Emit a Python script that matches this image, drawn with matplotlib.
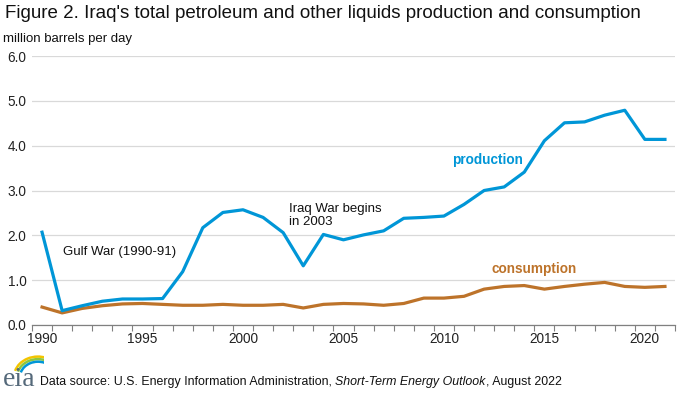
import matplotlib
matplotlib.use("Agg")
import matplotlib.pyplot as plt
from matplotlib.patches import Arc

plt.rcParams['font.family'] = ['Liberation Sans', 'DejaVu Sans']

years = list(range(1990, 2022))
production = [2.07, 0.32, 0.43, 0.53, 0.58, 0.58, 0.59, 1.19, 2.17, 2.51, 2.57, 2.40,
              2.06, 1.32, 2.02, 1.90, 2.01, 2.10, 2.38, 2.40, 2.43, 2.69, 3.00, 3.08,
              3.41, 4.11, 4.51, 4.53, 4.68, 4.79, 4.14, 4.14]
consumption = [0.40, 0.27, 0.37, 0.43, 0.47, 0.48, 0.46, 0.44, 0.44, 0.46, 0.44, 0.44,
               0.46, 0.38, 0.46, 0.48, 0.47, 0.44, 0.48, 0.60, 0.60, 0.64, 0.80, 0.86,
               0.88, 0.80, 0.86, 0.91, 0.95, 0.86, 0.84, 0.86]
yticks = [0, 1, 2, 3, 4, 5, 6]
xtick_labels = [1990, 1995, 2000, 2005, 2010, 2015, 2020]

W, H = 682, 395
fig = plt.figure(figsize=(W / 100, H / 100), dpi=100)
ax = fig.add_axes([32 / W, 1 - 325 / H, (675 - 32) / W, (325 - 56) / H])

blue = '#0096D7'
brown = '#BD732A'

ax.plot(years, consumption, color=brown, lw=2.3, solid_joinstyle='round', zorder=3)
ax.plot(years, production, color=blue, lw=2.3, solid_joinstyle='round', zorder=4)

ax.set_xlim(1989.5, 2021.5)
ax.set_ylim(0, 6)
ax.set_yticks(yticks)
ax.set_yticklabels([f"{v:.1f}" for v in yticks], fontsize=9.8, color='#222222')
ax.set_xticks(xtick_labels)
ax.set_xticklabels([str(v) for v in xtick_labels], fontsize=9.8, color='#222222')
ax.set_xticks([y - 0.5 for y in range(1990, 2023)], minor=True)
ax.tick_params(axis='x', which='major', length=0, pad=5)
ax.tick_params(axis='x', which='minor', length=4, color='#808080', width=0.8)
ax.tick_params(axis='y', length=0, pad=4)

ax.grid(axis='y', color='#D9D9D9', lw=0.9)
ax.set_axisbelow(True)
for s in ['top', 'right', 'left']:
    ax.spines[s].set_visible(False)
ax.spines['bottom'].set_color('#808080')
ax.spines['bottom'].set_linewidth(0.9)

# annotations
ax.text(1991.05, 1.62, 'Gulf War (1990-91)', fontsize=9.5, color='#111111', va='center')
ax.text(2002.3, 2.72, 'Iraq War begins\nin 2003', fontsize=9.5, color='#111111', va='top',
        linespacing=1.15)
ax.text(2010.4, 3.67, 'production', fontsize=9.8, color=blue, fontweight='bold', va='center')
ax.text(2012.35, 1.24, 'consumption', fontsize=9.8, color=brown, fontweight='bold', va='center')

# title and unit label
fig.text(5 / W, 1 - 13 / H, "Figure 2. Iraq's total petroleum and other liquids production and consumption",
         fontsize=13.5, color='#111111', va='center', ha='left')
fig.text(3 / W, 1 - 39 / H, 'million barrels per day', fontsize=9.5, color='#111111',
         va='center', ha='left')

# source
fs = 8.9
fig.text(40 / W, 1 - 382 / H, 'Data source: U.S. Energy Information Administration, ',
         fontsize=fs, color='#111111', va='center', ha='left')
t1 = fig.texts[-1]
fig.canvas.draw()
bb = t1.get_window_extent()
fig.text(bb.x1 / W, 1 - 382 / H, 'Short-Term Energy Outlook', fontsize=fs, color='#111111',
         va='center', ha='left', style='italic')
t2 = fig.texts[-1]
fig.canvas.draw()
bb2 = t2.get_window_extent()
fig.text(bb2.x1 / W, 1 - 382 / H, ', August 2022', fontsize=fs, color='#111111',
         va='center', ha='left')

# eia logo
fig.text(3 / W, 1 - 380 / H, 'eia', fontsize=20, family=['Liberation Serif', 'DejaVu Serif'],
         color='#55697A', va='center', ha='left')
lax = fig.add_axes([4 / W, 1 - 373 / H, 40 / W, 20 / H])
lax.set_xlim(0, 40)
lax.set_ylim(0, 20)
lax.axis('off')
for (r, c) in [(24, '#F2C400'), (21, '#8DC63F'), (18, '#0096D7')]:
    lax.add_patch(Arc((34, -4), 2 * r, 2 * r * 0.85, theta1=65, theta2=165, color=c, lw=1.8))

fig.savefig('out.png', dpi=100)
